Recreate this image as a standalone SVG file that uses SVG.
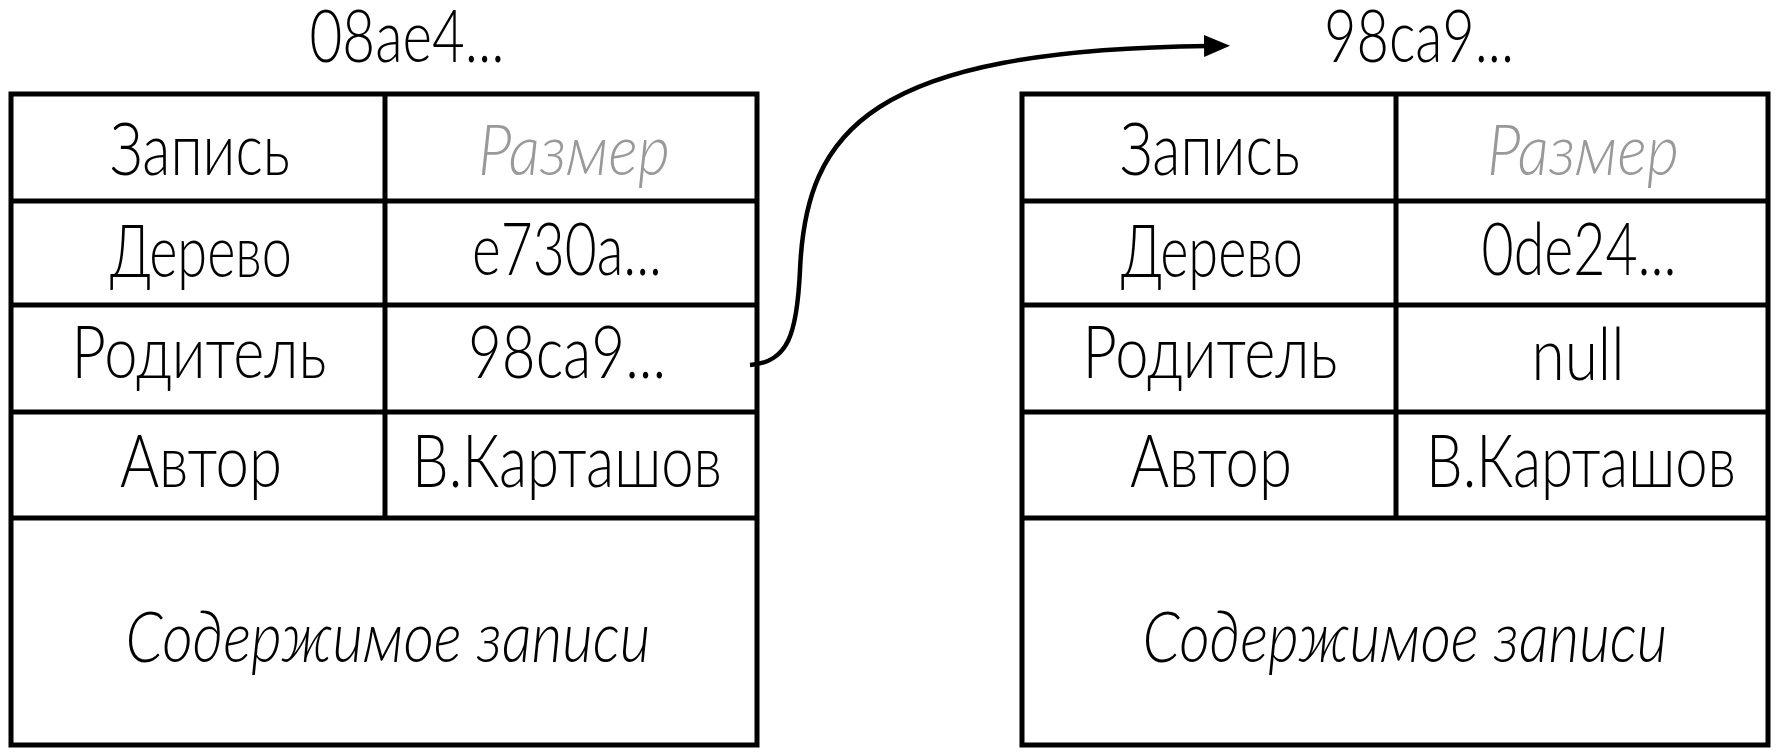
<svg xmlns="http://www.w3.org/2000/svg" width="1776" height="755" viewBox="0 0 1776 755">
<style>
.frame{fill:#fff;stroke:#000;stroke-width:5}
.ln{stroke:#000;stroke-width:5;fill:none}
.t{font-family:Lato,"Liberation Sans",sans-serif;font-weight:300;font-size:72px;fill:#000;text-anchor:middle}
.it{font-style:italic}
.gray{fill:#999}
.conn{stroke:#000;stroke-width:4.5;fill:none}
</style>
<defs>
<marker id="ah" markerUnits="userSpaceOnUse" markerWidth="30" markerHeight="24" refX="4" refY="11" orient="auto">
<path d="M0,0 L26,11 L0,22 z" fill="#000"/>
</marker>
</defs>
<rect width="1776" height="755" fill="#fff"/>
<g id="commit-08ae4">
<text class="t" x="407" y="62" textLength="195" lengthAdjust="spacingAndGlyphs">08ae4...</text>
<rect class="frame" x="11" y="94" width="746" height="651"/>
<line class="ln" x1="385" y1="94" x2="385" y2="518"/>
<line class="ln" x1="11" y1="201" x2="757" y2="201"/>
<line class="ln" x1="11" y1="305" x2="757" y2="305"/>
<line class="ln" x1="11" y1="412" x2="757" y2="412"/>
<line class="ln" x1="11" y1="518" x2="757" y2="518"/>
<text class="t" x="200" y="175" textLength="180" lengthAdjust="spacingAndGlyphs">Запись</text>
<text class="t it gray" x="574" y="175" textLength="192" lengthAdjust="spacingAndGlyphs">Размер</text>
<text class="t" x="201" y="277" textLength="182" lengthAdjust="spacingAndGlyphs">Дерево</text>
<text class="t" x="567" y="275" textLength="190" lengthAdjust="spacingAndGlyphs">e730a...</text>
<text class="t" x="199" y="378" textLength="255" lengthAdjust="spacingAndGlyphs">Родитель</text>
<text class="t" x="567" y="378" textLength="198" lengthAdjust="spacingAndGlyphs">98ca9...</text>
<text class="t" x="201" y="487" textLength="162" lengthAdjust="spacingAndGlyphs">Автор</text>
<text class="t" x="567" y="487" textLength="310" lengthAdjust="spacingAndGlyphs">В.Карташов</text>
<text class="t it" x="388" y="662" textLength="525" lengthAdjust="spacingAndGlyphs">Содержимое записи</text>
</g>
<g id="commit-98ca9">
<text class="t" x="1419" y="62" textLength="190" lengthAdjust="spacingAndGlyphs">98ca9...</text>
<rect class="frame" x="1022" y="94" width="746" height="651"/>
<line class="ln" x1="1396" y1="94" x2="1396" y2="518"/>
<line class="ln" x1="1022" y1="201" x2="1768" y2="201"/>
<line class="ln" x1="1022" y1="305" x2="1768" y2="305"/>
<line class="ln" x1="1022" y1="412" x2="1768" y2="412"/>
<line class="ln" x1="1022" y1="518" x2="1768" y2="518"/>
<text class="t" x="1210" y="175" textLength="180" lengthAdjust="spacingAndGlyphs">Запись</text>
<text class="t it gray" x="1583" y="175" textLength="192" lengthAdjust="spacingAndGlyphs">Размер</text>
<text class="t" x="1212" y="277" textLength="182" lengthAdjust="spacingAndGlyphs">Дерево</text>
<text class="t" x="1579" y="275" textLength="195" lengthAdjust="spacingAndGlyphs">0de24...</text>
<text class="t" x="1210" y="378" textLength="255" lengthAdjust="spacingAndGlyphs">Родитель</text>
<text class="t" x="1578" y="380" textLength="93" lengthAdjust="spacingAndGlyphs">null</text>
<text class="t" x="1211" y="487" textLength="162" lengthAdjust="spacingAndGlyphs">Автор</text>
<text class="t" x="1581" y="487" textLength="310" lengthAdjust="spacingAndGlyphs">В.Карташов</text>
<text class="t it" x="1405" y="662" textLength="525" lengthAdjust="spacingAndGlyphs">Содержимое записи</text>
</g>
<g id="connectors">
<path class="conn" d="M750,365 C788,362 797,335 800,270 C806,130 870,50 1208,46" marker-end="url(#ah)"/>
</g>
</svg>
